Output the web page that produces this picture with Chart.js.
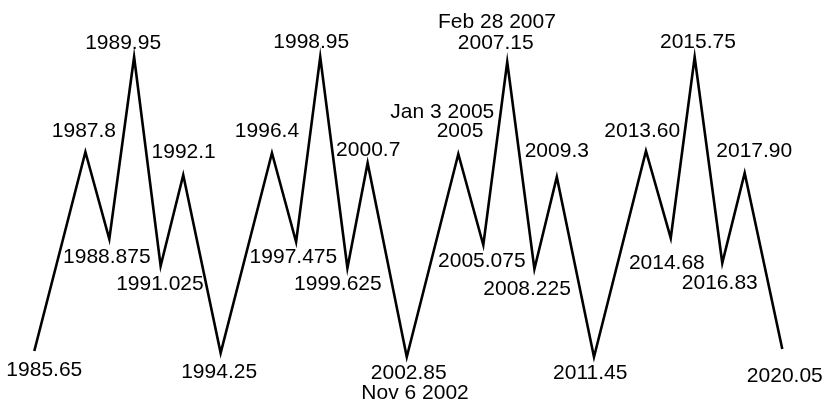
<!DOCTYPE html>
<html>
<head>
<meta charset="utf-8">
<script src="https://cdn.jsdelivr.net/npm/chart.js@4"></script>
<style>
  html, body { margin: 0; padding: 0; background: #fff; }
  #wrap { width: 824px; height: 402px; position: relative; }
</style>
</head>
<body>
<div id="wrap"><canvas id="chart"></canvas></div>
<script>
// Turning points of the wave (time in years, level in arbitrary units)
const times = [1985.65, 1988.0, 1989.1, 1990.24, 1991.46, 1992.5, 1994.22,
  1996.58, 1997.69, 1998.8, 2000.05, 2000.98, 2002.78,
  2005.15, 2006.3, 2007.4, 2008.65, 2009.68, 2011.39,
  2013.78, 2014.92, 2016.02, 2017.29, 2018.32, 2020.05]
const levels = [49, 248, 161, 343, 134, 225, 47,
  247, 158, 343, 132, 237, 43,
  246, 155, 338, 131, 223, 43,
  249, 162, 343, 137, 227, 51]
// Text printed at each turning point (one entry per line)
const pointLabels = [
  ["1985.65"], ["1987.8"], ["1988.875"], ["1989.95"], ["1991.025"], ["1992.1"], ["1994.25"],
  ["1996.4"], ["1997.475"], ["1998.95"], ["1999.625"], ["2000.7"], ["2002.85", "Nov 6 2002"],
  ["Jan 3 2005", "2005"], ["2005.075"], ["Feb 28 2007", "2007.15"], ["2008.225"], ["2009.3"], ["2011.45"],
  ["2013.60"], ["2014.68"], ["2015.75"], ["2016.83"], ["2017.90"], ["2020.05"]
]

// label placement relative to its point, one [dx, dy-to-baseline] per text line
const labelOffsets = [
  [[10, 25]], [[-1.5, -15]], [[-2.5, 24]], [[-11, -8.5]], [[-0.7, 24]], [[0.4, -17.5]], [[-1.5, 25]],
  [[-5, -16.5]], [[-2.7, 21]], [[-9, -9]], [[-9.5, 21.7]], [[0.6, -6.6]], [[2, 22.3], [8.3, 42.3]],
  [[-16, -35.7], [1.7, -17.3]], [[-1.5, 21.7]], [[-10.3, -34.4], [-11.5, -13.4]], [[-7.3, 25.7]], [[0, -20]], [[-3.7, 22.3]],
  [[-3.7, -14]], [[-3.9, 31]], [[3.3, -9]], [[-2.5, 26]], [[9.6, -16]], [[2.5, 33.4]]
]

const pointText = {
  id: 'pointText',
  afterDatasetsDraw(chart) {
    const ctx = chart.ctx
    const xs = chart.scales.x, ys = chart.scales.y
    ctx.save()
    ctx.fillStyle = '#000'
    ctx.font = '21px "Liberation Sans", Arial, sans-serif'
    ctx.textAlign = 'center'
    ctx.textBaseline = 'alphabetic'
    pointLabels.forEach((lines, i) => {
      const px = xs.getPixelForValue(times[i])
      const py = ys.getPixelForValue(levels[i])
      lines.forEach((t, j) => {
        const [dx, dy] = labelOffsets[i][j]
        ctx.fillText(t, px + dx, py + dy)
      })
    })
    ctx.restore()
  }
}

new Chart(document.getElementById('chart'), {
  type: 'line',
  data: {
    datasets: [{
      data: times.map((t, i) => ({ x: t, y: levels[i] })),
      borderColor: '#000',
      borderWidth: 2.6,
      borderJoinStyle: 'miter',
      pointRadius: 0,
      tension: 0,
      fill: false,
      clip: false
    }]
  },
  options: {
    responsive: true,
    maintainAspectRatio: false,
    animation: false,
    layout: { padding: 0 },
    plugins: { legend: { display: false }, tooltip: { enabled: false } },
    scales: {
      x: { type: 'linear', min: 1984.0725, max: 2021.968, display: false },
      y: { min: -2, max: 400, display: false }
    }
  },
  plugins: [pointText]
})
</script>
</body>
</html>
